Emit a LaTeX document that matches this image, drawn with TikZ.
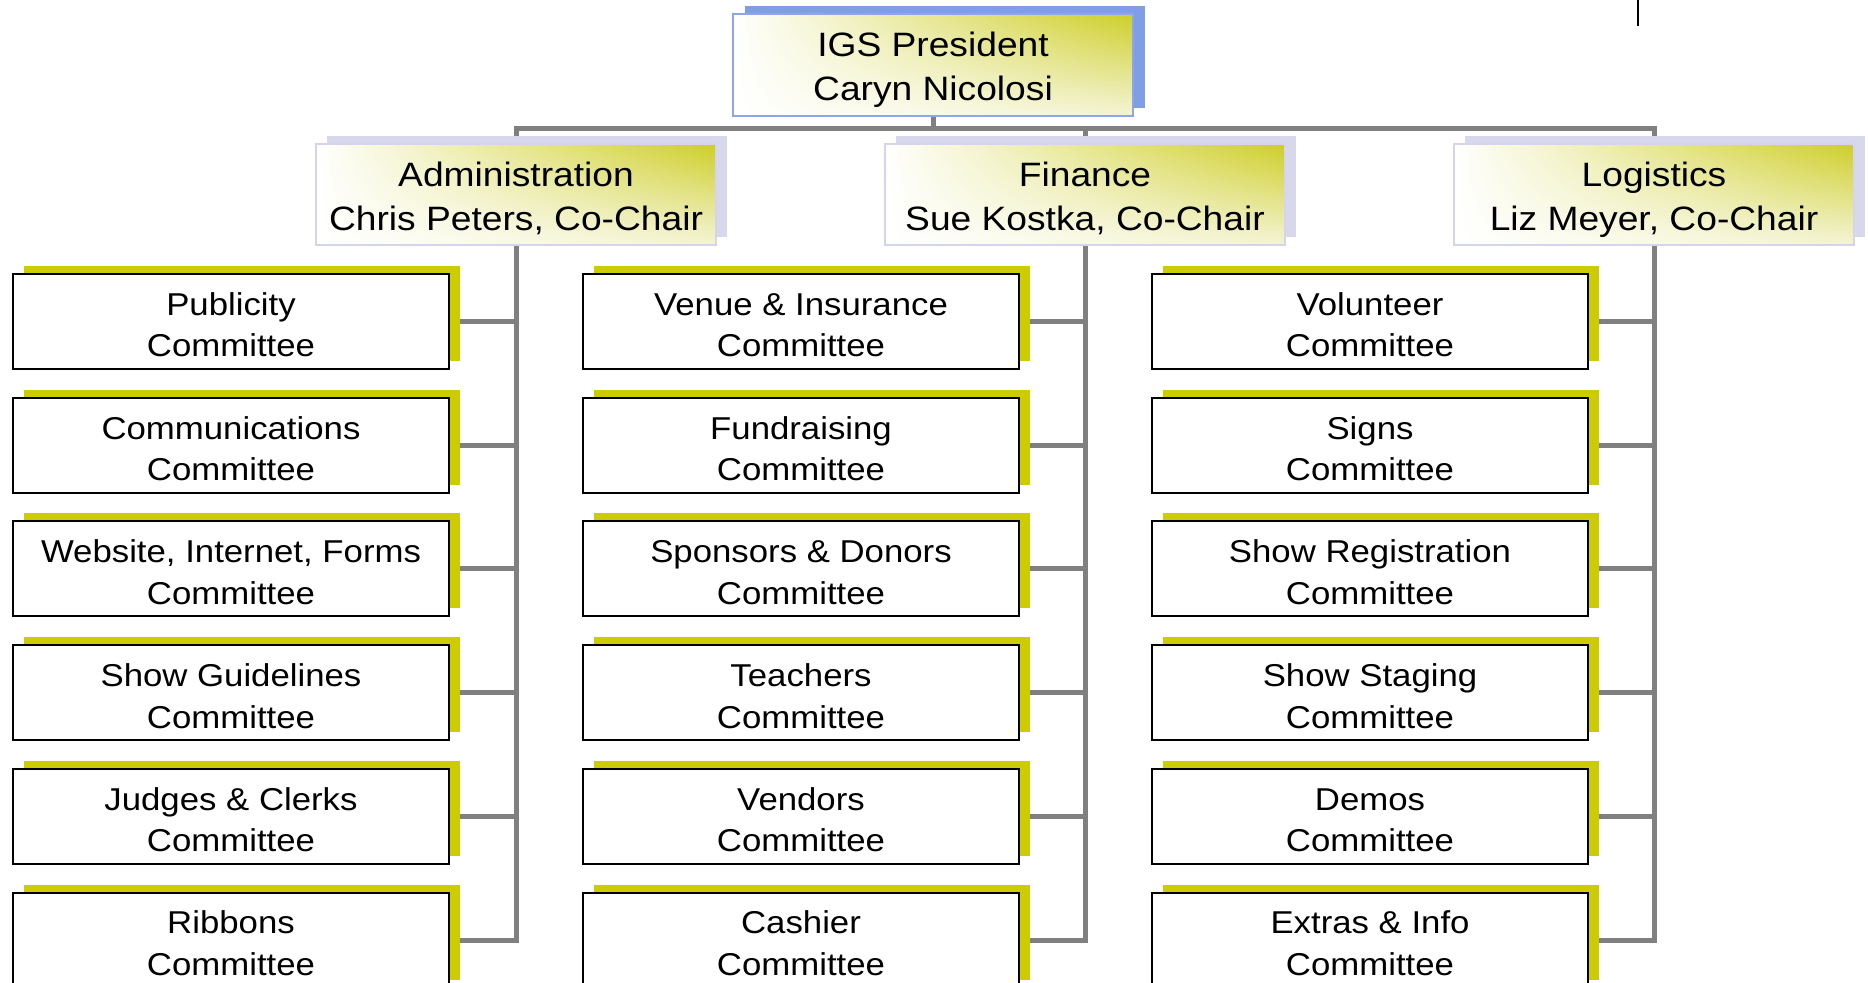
\documentclass[tikz,border=0pt]{standalone}
\usepackage{fontspec}
\setmainfont{Liberation Sans}
\newfontfamily\chartfont[FakeStretch=1.1]{Liberation Sans}
\usetikzlibrary{positioning,shadows,shadings,backgrounds}

\definecolor{comshade}{RGB}{204,204,0}
\definecolor{presshade}{RGB}{128,158,228}
\definecolor{presline}{RGB}{140,166,232}
\definecolor{deptshade}{RGB}{216,216,236}
\definecolor{deptline}{RGB}{212,212,236}
\definecolor{goldtop}{RGB}{206,206,40}
\definecolor{goldlow}{RGB}{244,244,214}
\definecolor{linkgray}{RGB}{128,128,128}

\begin{document}
\begin{tikzpicture}[x=0.5pt, y=-0.5pt, node distance=61.85pt]
\tikzstyle{head}=[shade, upper left=white, lower left=white, upper right=goldtop, lower right=goldlow,
  minimum width=200pt, minimum height=50.5pt, inner sep=0pt, align=center,
  font=\chartfont\fontsize{16.9}{22}\selectfont, text height=36pt, text depth=0pt,
  line width=0.8pt]
\tikzstyle{pres}=[head, draw=presline, minimum height=51pt,
  copy shadow={shadow xshift=6pt, shadow yshift=4pt, opacity=1, fill=presshade, draw=none}]
\tikzstyle{dept}=[head, draw=deptline,
  copy shadow={shadow xshift=5.5pt, shadow yshift=4pt, opacity=1, fill=deptshade, draw=none}]
\tikzstyle{com}=[draw=black, fill=white, line width=1pt, minimum width=218pt, minimum height=47.5pt,
  inner sep=0pt, align=center, font=\chartfont\fontsize{15.8}{20.8}\selectfont,
  text height=35.5pt, text depth=0pt,
  copy shadow={shadow xshift=5.5pt, shadow yshift=4pt, opacity=1, fill=comshade, draw=none}]
\tikzstyle{link}=[draw=linkgray, line width=2.5pt]

\useasboundingbox (0,0) rectangle (1868,983);
\clip (0,0) rectangle (1868,983);

% chairs
\node[pres] (pres) at (933,65)    {IGS President\\Caryn Nicolosi};
\node[dept] (adm)  at (516,194.5)  {Administration\\Chris Peters, Co-Chair};
\node[dept] (fin)  at (1085,194.5) {Finance\\Sue Kostka, Co-Chair};
\node[dept] (log)  at (1654,194.5) {Logistics\\Liz Meyer, Co-Chair};
\coordinate (bar) at (933,129);

% administration
\node[com] (a1) at (231,321.5)   {Publicity\\Committee};
\node[com] (a2) [below of=a1]    {Communications\\Committee};
\node[com] (a3) [below of=a2]    {Website, Internet, Forms\\Committee};
\node[com] (a4) [below of=a3]    {Show Guidelines\\Committee};
\node[com] (a5) [below of=a4]    {Judges \& Clerks\\Committee};
\node[com] (a6) [below of=a5]    {Ribbons\\Committee};

% finance
\node[com] (f1) at (801,321.5)   {Venue \& Insurance\\Committee};
\node[com] (f2) [below of=f1]    {Fundraising\\Committee};
\node[com] (f3) [below of=f2]    {Sponsors \& Donors\\Committee};
\node[com] (f4) [below of=f3]    {Teachers\\Committee};
\node[com] (f5) [below of=f4]    {Vendors\\Committee};
\node[com] (f6) [below of=f5]    {Cashier\\Committee};

% logistics
\node[com] (l1) at (1370,321.5)  {Volunteer\\Committee};
\node[com] (l2) [below of=l1]    {Signs\\Committee};
\node[com] (l3) [below of=l2]    {Show Registration\\Committee};
\node[com] (l4) [below of=l3]    {Show Staging\\Committee};
\node[com] (l5) [below of=l4]    {Demos\\Committee};
\node[com] (l6) [below of=l5]    {Extras \& Info\\Committee};

\draw[black, line width=0.6pt] (1638,0) -- (1638,26);

\begin{scope}[on background layer]
\draw[link] (pres) -- (bar);
\draw[link] (adm) |- (bar) -| (log);
\draw[link] (fin) -- (fin |- bar);
\draw[link] (adm) |- (a6)
  (a1) -- (a1 -| adm) (a2) -- (a2 -| adm) (a3) -- (a3 -| adm)
  (a4) -- (a4 -| adm) (a5) -- (a5 -| adm);
\draw[link] (fin) |- (f6)
  (f1) -- (f1 -| fin) (f2) -- (f2 -| fin) (f3) -- (f3 -| fin)
  (f4) -- (f4 -| fin) (f5) -- (f5 -| fin);
\draw[link] (log) |- (l6)
  (l1) -- (l1 -| log) (l2) -- (l2 -| log) (l3) -- (l3 -| log)
  (l4) -- (l4 -| log) (l5) -- (l5 -| log);
\end{scope}
\end{tikzpicture}
\end{document}
